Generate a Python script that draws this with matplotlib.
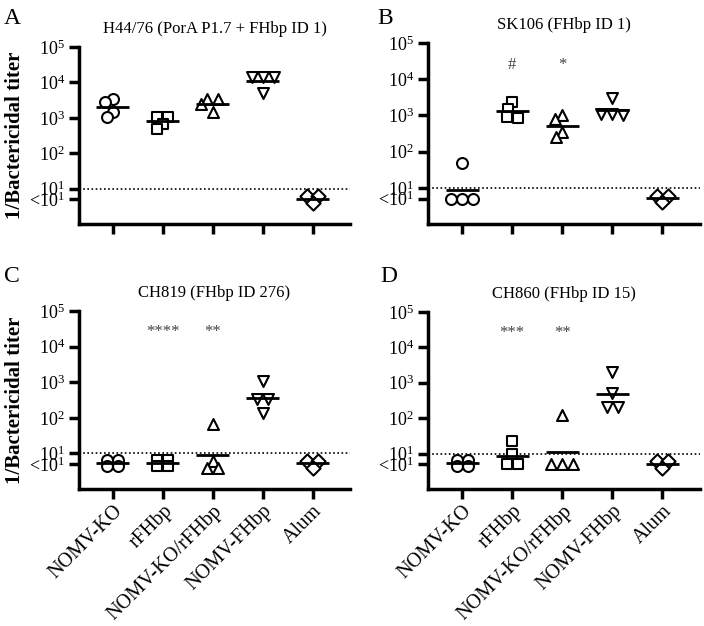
import numpy as np
import matplotlib
matplotlib.use("Agg")
import matplotlib.pyplot as plt
from matplotlib.ticker import NullLocator
from matplotlib.transforms import ScaledTranslation

plt.rcParams['font.family'] = ['Liberation Serif', 'DejaVu Serif']

# vaccine groups (x axis) and the marker used for each group
groups = ["NOMV-KO", "rFHbp", "NOMV-KO/rFHbp", "NOMV-FHbp", "Alum"]
markers = ["o", "s", "^", "v", "D"]

# 1/bactericidal titers per mouse pool, one list per group (<10 plotted near 5)
titers_a = [[3300, 2800, 1500, 1070],
            [1070, 1070, 690, 490],
            [3300, 3300, 2400, 1500],
            [14400, 14400, 14400, 5100],
            [6, 6, 4]]
titers_b = [[49, 5, 5, 5],
            [2340, 1530, 900, 860],
            [1000, 810, 340, 250],
            [3000, 1110, 1110, 1000],
            [6, 6, 4]]
titers_c = [[6.5, 6.5, 4.5, 4.5],
            [6.5, 6.5, 4.5, 4.5],
            [69, 6, 4, 4],
            [1110, 330, 330, 139],
            [6, 6, 4]]
titers_d = [[6.5, 6.5, 4.5, 4.5],
            [23, 10, 5, 5],
            [127, 5, 5, 5],
            [2050, 510, 214, 214],
            [6, 6, 4]]

titles = ["H44/76 (PorA P1.7 + FHbp ID 1)", "SK106 (FHbp ID 1)",
          "CH819 (FHbp ID 276)", "CH860 (FHbp ID 15)"]
letters = ["A", "B", "C", "D"]

# significance marks: (group index, text)
signif_b = [(1, "#"), (2, "*")]
signif_c = [(1, "****"), (2, "**")]
signif_d = [(1, "***"), (2, "**")]

yticks = [5, 10, 1e2, 1e3, 1e4, 1e5]
ytick_labels = [r"<$\mathregular{10^1}$", r"$\mathregular{10^1}$", r"$\mathregular{10^2}$",
                r"$\mathregular{10^3}$", r"$\mathregular{10^4}$", r"$\mathregular{10^5}$"]

W, H = 704, 626
fig = plt.figure(figsize=(W / 100, H / 100), dpi=100)


def make_axes(left, right, top, bottom):
    return fig.add_axes([left / W, 1 - bottom / H, (right - left) / W, (bottom - top) / H])


axes = [make_axes(79, 350, 47, 224), make_axes(428, 700, 43, 224),
        make_axes(79, 350, 311, 489), make_axes(428, 700, 312, 489)]

XLIM = (-0.68, 4.75)
MARK_PX = 11.0


def swarm(vals, ppd, cat_px):
    # simple swarm: near-equal values share a row, lone points dodge overlaps
    y = np.log10(np.asarray(vals, float)) * ppd
    order = np.argsort(-y, kind="stable")
    rows = []
    for i in order:
        if rows and abs(y[rows[-1][0]] - y[i]) < 2.5:
            rows[-1].append(i)
        else:
            rows.append([i])
    xs = np.zeros(len(vals))
    placed = []
    for r in rows:
        if len(r) > 1:
            for k, i in enumerate(r):
                xs[i] = (k - (len(r) - 1) / 2) * MARK_PX
        else:
            i = r[0]
            for step in range(0, 40):
                cand = [0.0] if step == 0 else [-step * 0.5, step * 0.5]
                ok = None
                for c in cand:
                    if all(np.hypot(c - xs[j], y[i] - y[j]) >= 0.7 * MARK_PX for j in placed):
                        ok = c
                        break
                if ok is not None:
                    xs[i] = ok
                    break
        placed.extend(r)
    return xs / cat_px


all_titers = [titers_a, titers_b, titers_c, titers_d]
all_signif = [[], signif_b, signif_c, signif_d]

for n, ax in enumerate(axes):
    bbox = ax.get_position()
    ax_h = bbox.height * H
    ax_w = bbox.width * W
    ppd = ax_h / 5.0
    cat_px = ax_w / (XLIM[1] - XLIM[0])
    for g, vals in enumerate(all_titers[n]):
        off = swarm(vals, ppd, cat_px)
        ax.scatter(g + off, vals, marker=markers[g], s=62 if markers[g] != "D" else 52,
                   facecolors="white", edgecolors="black", linewidths=1.5, zorder=3)
        gm = np.exp(np.mean(np.log(vals)))
        ax.hlines(gm, g - 0.33, g + 0.33, colors="black", linewidth=2, zorder=4)
    ax.axhline(10, color="black", linestyle=(0, (1, 1.5)), linewidth=1.2, zorder=1)
    for g, txt in all_signif[n]:
        ax.text(g, 25000, txt, ha="center", va="center", fontsize=12, color="#444444")

    ax.set_yscale("log")
    ax.set_ylim(1, 1e5)
    ax.set_xlim(*XLIM)
    ax.set_yticks(yticks)
    ax.set_yticklabels(ytick_labels, fontsize=13)
    ax.yaxis.set_minor_locator(NullLocator())
    # nudge the two crowded labels apart a little
    labs = ax.get_yticklabels()
    labs[0].set_transform(labs[0].get_transform() + ScaledTranslation(0, -2.5 / 72, fig.dpi_scale_trans))
    labs[1].set_transform(labs[1].get_transform() + ScaledTranslation(0, 2.5 / 72, fig.dpi_scale_trans))
    ax.set_xticks(range(len(groups)))
    if n >= 2:
        ax.set_xticklabels(groups, rotation=45, ha="right", va="top",
                           rotation_mode="anchor", fontsize=14.5)
    else:
        ax.set_xticklabels([])
    for s in ["top", "right"]:
        ax.spines[s].set_visible(False)
    for s in ["left", "bottom"]:
        ax.spines[s].set_linewidth(2.5)
    ax.tick_params(width=2.5, length=7, direction="out", pad=3)
    ax.tick_params(axis="x", pad=2)
    ax.set_title(titles[n], fontsize=12, pad=10)
    if n % 2 == 0:
        ax.set_ylabel("1/Bactericidal titer", fontsize=15, fontweight="bold", labelpad=3)

fig.text(4 / W, 1 - 8 / H, "A", fontsize=17, va="top", ha="left")
fig.text(377 / W, 1 - 8 / H, "B", fontsize=17, va="top", ha="left")
fig.text(4 / W, 1 - 266 / H, "C", fontsize=17, va="top", ha="left")
fig.text(380 / W, 1 - 266 / H, "D", fontsize=17, va="top", ha="left")

fig.savefig("out.png", dpi=100)
